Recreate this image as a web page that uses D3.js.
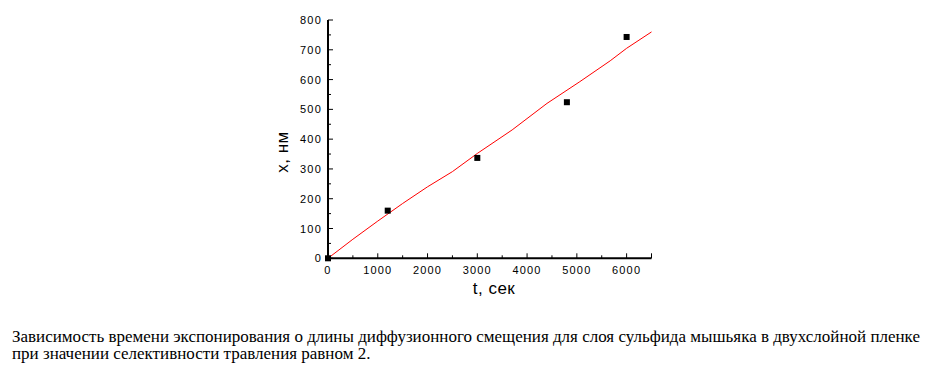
<!DOCTYPE html>
<html>
<head>
<meta charset="utf-8">
<script src="https://cdn.jsdelivr.net/npm/d3@7"></script>
<style>
  html, body { margin: 0; padding: 0; background: #fff; }
  svg { display: block; }
</style>
</head>
<body>
<div id="chart"></div>
<script>
// measured points (t, сек ; x, нм)
var pointT = [0, 1200, 3000, 4800, 6000];
var pointX = [0, 160, 337, 524, 743];
// red fit curve
var fitT = [0, 500, 1000, 1500, 2000, 2500, 3000, 3700, 4400, 5060, 5670, 6000, 6500];
var fitX = [0, 64, 125, 184, 240, 291, 352, 431, 520, 593, 663, 705, 760];
var xTicks = [0, 1000, 2000, 3000, 4000, 5000, 6000];
var yTicks = [0, 100, 200, 300, 400, 500, 600, 700, 800];
var xLabel = 't, сек';
var yLabel = 'x, нм';
var caption = [
  'Зависимость времени экспонирования о длины диффузионного смещения для слоя сульфида мышьяка в двухслойной пленке',
  'при значении селективности травления равном 2.'
];

var W = 932, H = 368;
var svg = d3.select('#chart').append('svg').attr('width', W).attr('height', H);

var xScale = d3.scaleLinear().domain([0, 6500]).range([328, 651.5]);
var yScale = d3.scaleLinear().domain([0, 800]).range([258.3, 20]);

// minor ticks (inward)
var minorX = d3.range(500, 6500, 1000);
var minorY = d3.range(50, 800, 100);

var g = svg.append('g');

g.selectAll('.minx').data(minorX).enter().append('line')
  .attr('x1', function (d) { return xScale(d); }).attr('x2', function (d) { return xScale(d); })
  .attr('y1', yScale(0)).attr('y2', yScale(0) - 3)
  .attr('stroke', '#000').attr('stroke-width', 1);
g.selectAll('.majx').data(xTicks.concat([6500])).enter().append('line')
  .attr('x1', function (d) { return xScale(d); }).attr('x2', function (d) { return xScale(d); })
  .attr('y1', yScale(0)).attr('y2', yScale(0) - 5)
  .attr('stroke', '#000').attr('stroke-width', 1);
g.selectAll('.miny').data(minorY).enter().append('line')
  .attr('x1', xScale(0)).attr('x2', xScale(0) + 3)
  .attr('y1', function (d) { return yScale(d); }).attr('y2', function (d) { return yScale(d); })
  .attr('stroke', '#000').attr('stroke-width', 1);
g.selectAll('.majy').data(yTicks).enter().append('line')
  .attr('x1', xScale(0)).attr('x2', xScale(0) + 5)
  .attr('y1', function (d) { return yScale(d); }).attr('y2', function (d) { return yScale(d); })
  .attr('stroke', '#000').attr('stroke-width', 1);

// axis lines
g.append('line').attr('x1', xScale(0)).attr('x2', xScale(0))
  .attr('y1', yScale(800)).attr('y2', yScale(0) + 1)
  .attr('stroke', '#000').attr('stroke-width', 2);
g.append('line').attr('x1', xScale(0) - 1).attr('x2', xScale(6500))
  .attr('y1', yScale(0)).attr('y2', yScale(0))
  .attr('stroke', '#000').attr('stroke-width', 2);

// tick labels
g.selectAll('.xl').data(xTicks).enter().append('text')
  .attr('x', function (d) { return xScale(d); })
  .attr('y', 273.5)
  .attr('text-anchor', 'middle')
  .style('font-family', 'Arial, "Liberation Sans", sans-serif')
  .style('font-size', '11px')
  .style('letter-spacing', '1.2px')
  .text(function (d) { return d; });
g.selectAll('.yl').data(yTicks).enter().append('text')
  .attr('x', 322)
  .attr('y', function (d) { return yScale(d) + 4; })
  .attr('text-anchor', 'end')
  .style('font-family', 'Arial, "Liberation Sans", sans-serif')
  .style('font-size', '11px')
  .style('letter-spacing', '1.2px')
  .text(function (d) { return d; });

// axis titles
svg.append('text')
  .attr('x', 494).attr('y', 294)
  .attr('text-anchor', 'middle')
  .style('font-family', 'Arial, "Liberation Sans", sans-serif')
  .style('font-size', '17px')
  .style('letter-spacing', '0.5px')
  .text(xLabel);
svg.append('text')
  .attr('transform', 'translate(288,152) rotate(-90)')
  .attr('text-anchor', 'middle')
  .style('font-family', 'Arial, "Liberation Sans", sans-serif')
  .style('font-size', '17px')
  .style('letter-spacing', '0.5px')
  .text(yLabel);

// fit curve
var fitData = fitT.map(function (t, i) { return [t, fitX[i]]; });
var line = d3.line()
  .x(function (d) { return xScale(d[0]); })
  .y(function (d) { return yScale(d[1]); });
g.append('path').datum(fitData)
  .attr('d', line)
  .attr('fill', 'none')
  .attr('stroke', '#ff0000')
  .attr('stroke-width', 1);

// data points
var pts = pointT.map(function (t, i) { return [t, pointX[i]]; });
g.selectAll('.pt').data(pts).enter().append('rect')
  .attr('x', function (d) { return xScale(d[0]) - 3; })
  .attr('y', function (d) { return yScale(d[1]) - 3; })
  .attr('width', 6).attr('height', 6)
  .attr('fill', '#000');

// caption
svg.selectAll('.cap').data(caption).enter().append('text')
  .attr('x', 12)
  .attr('y', function (d, i) { return 341.5 + i * 17.5; })
  .style('font-family', '"Times New Roman", "Liberation Serif", serif')
  .style('font-size', '17px')
  .text(function (d) { return d; });
</script>
</body>
</html>
